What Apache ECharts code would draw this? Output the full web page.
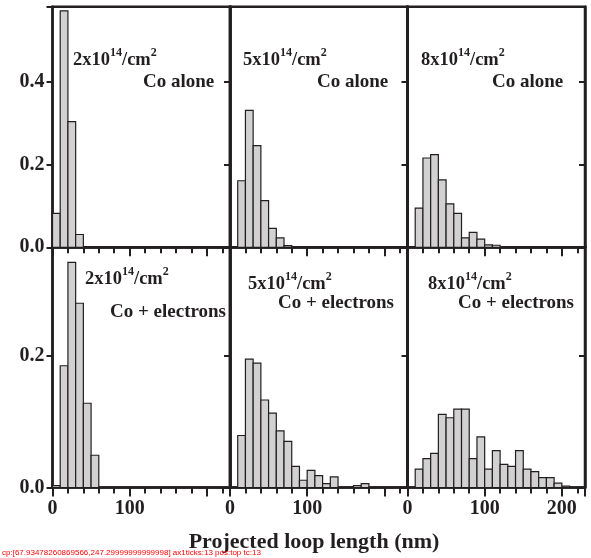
<!DOCTYPE html>
<html><head><meta charset="utf-8">
<script src="https://cdn.jsdelivr.net/npm/echarts@6/dist/echarts.min.js"></script>
<style>html,body{margin:0;padding:0;background:#fff}#c{width:591px;height:558px}</style>
</head><body><div id="c"></div>
<script>
// ---- data (bin i covers [i*binWidth, (i+1)*binWidth] nm) ----
const binWidth = 10;
const coAlone2 = [0.082, 0.572, 0.304, 0.031];
const coAlone5 = [0, 0.161, 0.331, 0.246, 0.113, 0.046, 0.023, 0.004];
const coAlone8 = [0, 0.095, 0.216, 0.224, 0.163, 0.105, 0.082, 0.023, 0.036, 0.020, 0.006, 0.005];
const coElec2 = [0.003, 0.185, 0.342, 0.280, 0.128, 0.049];
const coElec5 = [0, 0.079, 0.195, 0.189, 0.133, 0.113, 0.086, 0.070, 0.032, 0.011, 0.026, 0.018, 0.006, 0.016, 0, 0, 0.003, 0.006, 0.001];
const coElec8 = [0, 0.028, 0.044, 0.052, 0.111, 0.106, 0.119, 0.119, 0.044, 0.077, 0.028, 0.056, 0.035, 0.032, 0.056, 0.028, 0.024, 0.015, 0.015, 0.0065, 0.002];
const doses = ['2', '5', '8'];
const treatments = ['Co alone', 'Co + electrons'];
const xTicks = [0, 100, 200];
const xMinorTicks = [20, 40, 60, 80, 120, 140, 160, 180, 220];
const yTicks = [0.0, 0.2, 0.4];
const xTitle = 'Projected loop length (nm)';

const panels = [coAlone2, coAlone5, coAlone8, coElec2, coElec5, coElec8];

// ---- layout / style ----
const ink = '#231f20';
const ff = '"Liberation Serif", "Times New Roman", serif';
const colLeft = [52.5, 230, 407.5];
const colW = 177.5;
const rowTop = [6.7, 247.3];
const rowH = [240.6, 240.2];
const rowMax = [0.582, 0.365];
const minorLen = 6;

const grids = [], xAxes = [], yAxes = [], series = [], graphics = [];
const isTick = (v, step) => Math.abs(v / step - Math.round(v / step)) < 1e-6;

panels.forEach((vals, i) => {
  const row = Math.floor(i / 3), col = i % 3;
  grids.push({left: colLeft[col], top: rowTop[row], width: colW, height: rowH[row],
    show: true, borderColor: ink, borderWidth: 2.5, backgroundColor: 'transparent',
    containLabel: false, outerBoundsMode: 'none'});
  // main axis: labels + long ticks at 0/100/200
  xAxes.push({gridIndex: i, type: 'value', min: 0, max: 230, interval: 100, position: 'bottom',
    axisLine: {show: true, onZero: false, lineStyle: {color: ink, width: 2.5}},
    axisTick: {show: true, inside: false, length: 9, lineStyle: {color: ink, width: 2}},
    splitLine: {show: false},
    axisLabel: {show: row === 1, margin: 11, fontSize: 20, fontWeight: 'bold', fontFamily: ff, color: ink,
      hideOverlap: false, showMinLabel: true, showMaxLabel: true,
      formatter: v => (isTick(v, 100) && xTicks.indexOf(Math.round(v)) >= 0 && (col === 2 || v < 200)) ? String(Math.round(v)) : ''}
  });
  // minor-tick axis (every 20 nm) drawn on the bottom edge, no labels
  xAxes.push({gridIndex: i, type: 'value', min: 0, max: 230, interval: 20, position: 'top', offset: -rowH[row],
    axisLine: {show: false, onZero: false},
    axisTick: {show: true, inside: true, length: minorLen, interval: 0, lineStyle: {color: ink, width: 2}},
    splitLine: {show: false},
    axisLabel: {show: false, interval: 0, fontSize: 1, formatter: () => ''}
  });
  yAxes.push({gridIndex: i, type: 'value', min: 0, max: rowMax[row], interval: 0.2, position: 'left',
    axisLine: {show: true, onZero: false, lineStyle: {color: ink, width: 2.5}},
    axisTick: {show: true, inside: false, length: 6, lineStyle: {color: ink, width: 2}},
    splitLine: {show: false},
    axisLabel: {show: col === 0, margin: 8, fontSize: 20, fontWeight: 'bold', fontFamily: ff, color: ink,
      showMaxLabel: true, hideOverlap: false,
      formatter: v => (isTick(v, 0.2) && yTicks.some(t => Math.abs(t - v) < 1e-6)) ? v.toFixed(1) : ''}
  });
  yAxes.push({gridIndex: i, type: 'value', min: 0, max: rowMax[row], interval: 0.2, position: 'right',
    axisLine: {show: true, onZero: false, lineStyle: {color: ink, width: 2.5}},
    axisTick: {show: true, inside: true, length: 6, lineStyle: {color: ink, width: 2}},
    splitLine: {show: false}, axisLabel: {show: false}
  });
  const data = [];
  vals.forEach((v, k) => { if (v > 0) data.push([k * binWidth, (k + 1) * binWidth, v]); });
  series.push({type: 'custom', xAxisIndex: 2 * i, yAxisIndex: 2 * i, data: data, z: 2,
    renderItem: (params, api) => {
      const p0 = api.coord([api.value(0), 0]);
      const p1 = api.coord([api.value(1), api.value(2)]);
      return {type: 'rect', shape: {x: p0[0], y: p1[1], width: p1[0] - p0[0], height: p0[1] - p1[1]},
        style: {fill: '#d1d1d1', stroke: ink, lineWidth: 1.2}};
    }
  });
});

// annotations
const annoPos = [
  {dx: 73, dy: 58, tx: 143, ty: 82},
  {dx: 243, dy: 58, tx: 317, ty: 82},
  {dx: 421, dy: 58, tx: 492, ty: 82},
  {dx: 85, dy: 277, tx: 110, ty: 312},
  {dx: 248, dy: 282, tx: 278, ty: 303},
  {dx: 428, dy: 282, tx: 458, ty: 303}
];
annoPos.forEach((p, i) => {
  const row = Math.floor(i / 3), col = i % 3;
  graphics.push({type: 'text', x: p.dx, y: p.dy, z: 10, style: {
    text: '{m|' + doses[col] + 'x10}{s|14}{m|/cm}{s|2}', verticalAlign: 'middle', align: 'left',
    rich: {
      m: {fontSize: 18.5, fontWeight: 'bold', fontFamily: ff, fill: ink, lineHeight: 23, verticalAlign: 'bottom'},
      s: {fontSize: 12, fontWeight: 'bold', fontFamily: ff, fill: ink, lineHeight: 12, verticalAlign: 'top'}
    }}});
  graphics.push({type: 'text', x: p.tx, y: p.ty, z: 10, style: {
    text: treatments[row], fontSize: 19, fontWeight: 'bold', fontFamily: ff, fill: ink,
    verticalAlign: 'middle', align: 'left'}});
});
graphics.push({type: 'text', x: 314, y: 542, z: 10, style: {
  text: xTitle, fontSize: 22, fontWeight: 'bold', fontFamily: ff, fill: ink, align: 'center', verticalAlign: 'middle'}});

const chart = echarts.init(document.getElementById('c'), null, {renderer: 'canvas'});
chart.setOption({
  animation: false,
  backgroundColor: '#ffffff',
  grid: grids, xAxis: xAxes, yAxis: yAxes, series: series, graphic: graphics
});

// diagnostic: what does the pixel lookup return?
let diag = '';
try {
  const p = chart.convertToPixel({xAxisIndex: 0, yAxisIndex: 0}, [20, 0]);
  diag += 'cp:' + JSON.stringify(p);
} catch (e) { diag += 'cpErr:' + e.message; }
try {
  const ax = chart.getModel().getComponent('xAxis', 1).axis;
  diag += ' ax1ticks:' + ax.scale.getTicks().length + ' pos:' + ax.position;
  const ac = ax.getTicksCoords ? ax.getTicksCoords() : null;
  diag += ' tc:' + (ac ? ac.length : 'na');
} catch (e) { diag += ' axErr:' + e.message; }
chart.setOption({graphic: {elements: graphics.concat([{type: 'text', x: 2, y: 557, z: 30,
  style: {text: diag, fontSize: 8, fill: '#ff0000', verticalAlign: 'bottom'}}])}});
</script>
</body></html>
